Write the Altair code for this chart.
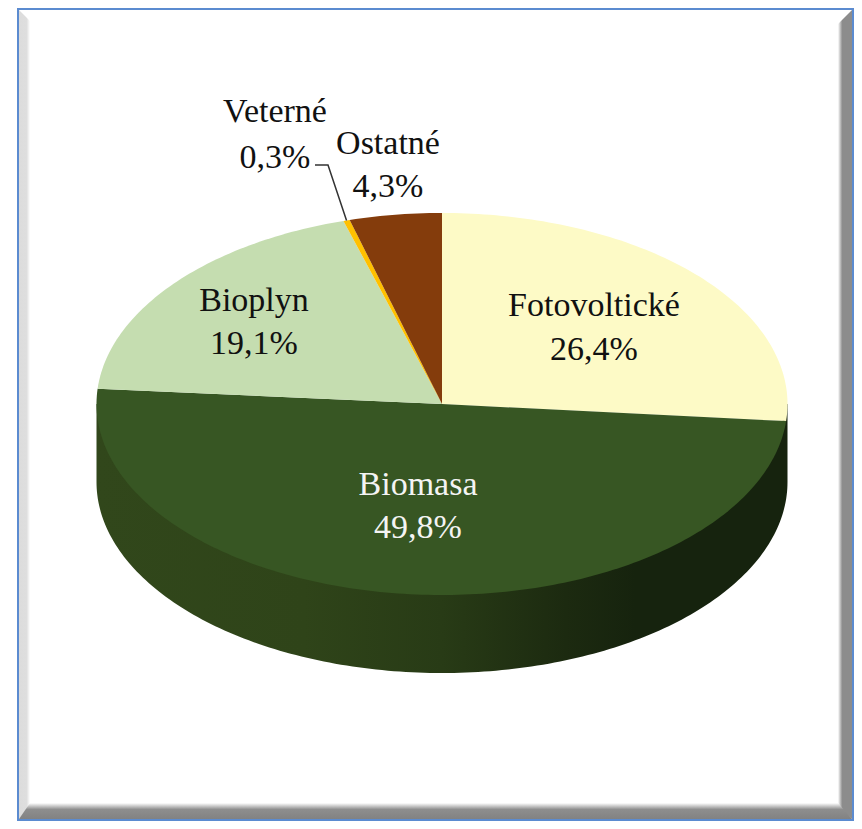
import math
import altair as alt
import pandas as pd

# ---- values ----
categories = ["Fotovoltické", "Biomasa", "Bioplyn", "Veterné", "Ostatné"]
shares = [26.4, 49.8, 19.1, 0.3, 4.3]
share_labels = ["26,4%", "49,8%", "19,1%", "0,3%", "4,3%"]
slice_colors = ["#FDFAC6", "#375623", "#C5DDB0", "#FFC000", "#843C0C"]
text_colors = ["#111111", "#F4F4F4", "#111111", "#111111", "#111111"]

# label anchors (picture pixels): centre x, name line y, value line y
label_x = [594, 418, 254, 275, 388]
label_y1 = [306, 485, 301, 112, 144]
label_y2 = [350, 528, 344, 158, 187]

W, H = 846, 813
CX, CY, RX, RY, DEPTH = 442, 404, 345.5, 191, 78


def px(x, y):
    """picture pixels to chart pixels (the page has an 8px margin)"""
    return [x - 8, y - 8]


def ell(turn, dy=0, k=1.0):
    a = 2 * math.pi * turn
    return px(CX + k * RX * math.sin(a), CY - k * RY * math.cos(a) + dy)


def feature(name, ring):
    ring = ring + [ring[0]]
    return {"type": "Feature", "properties": {"name": name},
            "geometry": {"type": "Polygon", "coordinates": [ring]}}


total = sum(shares)
slices = []
start = 0.0
turns = []
for name, s in zip(categories, shares):
    end = start + s / total
    n = max(2, int((end - start) * 360))
    arc = [ell(start + (end - start) * i / n) for i in range(n + 1)]
    slices.append(feature(name, [px(CX, CY)] + arc))
    turns.append((start, end))
    start = end

N = 180
# upper edge of the rim tucks slightly under the top face so no seam shows
upper = [ell(0.25 + 0.5 * i / N, 0, 0.99) for i in range(N + 1)]
lower_down = [ell(0.25 + 0.5 * i / N, DEPTH) for i in range(N, -1, -1)]
side = feature("side", [ell(0.25)] + upper + [ell(0.75)] + lower_down)

identity = dict(type="identity", scale=1, translate=[0, 0])


def gradient(stops, x2=1, y2=0):
    return {"gradient": "linear", "x1": 0, "y1": 0, "x2": x2, "y2": y2,
            "stops": [{"offset": o, "color": c} for o, c in stops]}


def shape(poly, fill):
    return (alt.Chart(alt.Data(values=[feature("f", poly)]))
            .mark_geoshape(fill=fill, stroke=None)
            .project(**identity))


x_s = alt.Scale(domain=[0, W], range=[0, W])
y_s = alt.Scale(domain=[0, H], range=[0, H])

frame_df = pd.DataFrame([{"x": 18 - 8, "x2": 853 - 8, "y": 9 - 8, "y2": 820 - 8}])
frame = alt.Chart(frame_df).mark_rect(fill="white", stroke="#5B8BD0", strokeWidth=2).encode(
    x=alt.X("x:Q", scale=x_s, axis=None), x2="x2:Q",
    y=alt.Y("y:Q", scale=y_s, axis=None), y2="y2:Q")

bevel_left = shape([px(19, 10), px(30, 21), px(30, 808), px(19, 819)],
                   gradient([(0, "#DCDCDC"), (0.7, "#DEDEDE"), (1, "#FFFFFF")]))
bevel_right = shape([px(852, 10), px(838, 24), px(838, 807), px(852, 819)],
                    gradient([(0, "#FFFFFF"), (0.3, "#8C8C8C"), (1, "#8C8C8C")]))
bevel_bottom = shape([px(19, 819), px(30, 803), px(838, 803), px(852, 819)],
                     gradient([(0, "#FFFFFF"), (0.4, "#8E8E8E"), (1, "#828282")], x2=0, y2=1))

side_layer = (alt.Chart(alt.Data(values=[side]))
              .mark_geoshape(stroke=None, fill=gradient([
                  (0, "#31471B"), (0.3, "#2F4419"), (0.5, "#283B16"),
                  (0.68, "#1C2A10"), (0.78, "#16230E"), (1, "#16230E")]))
              .project(**identity))

top_layer = (alt.Chart(alt.Data(values=slices))
             .mark_geoshape(stroke=None)
             .encode(color=alt.Color("properties.name:N",
                                     scale=alt.Scale(domain=categories, range=slice_colors),
                                     legend=None))
             .project(**identity))

# leader line of the Veterné label, ending on its slice
vet_mid = sum(turns[3]) / 2
leader_end = ell(vet_mid)
leader_df = pd.DataFrame({
    "x": [315 - 8, 328 - 8, leader_end[0]],
    "y": [165 - 8, 165 - 8, leader_end[1]],
    "o": [0, 1, 2],
})
leader = alt.Chart(leader_df).mark_line(color="#333333", strokeWidth=1.5).encode(
    x=alt.X("x:Q", scale=x_s, axis=None),
    y=alt.Y("y:Q", scale=y_s, axis=None),
    order="o:O")

rows = []
for name, lab, c, lx, y1, y2 in zip(categories, share_labels, text_colors, label_x, label_y1, label_y2):
    rows.append({"t": name, "x": lx - 8, "y": y1 - 8, "c": c})
    rows.append({"t": lab, "x": lx - 8, "y": y2 - 8, "c": c})
labels = alt.Chart(pd.DataFrame(rows)).mark_text(
    font="Liberation Serif", fontSize=34, baseline="middle", align="center"
).encode(
    x=alt.X("x:Q", scale=x_s, axis=None),
    y=alt.Y("y:Q", scale=y_s, axis=None),
    text="t:N",
    color=alt.Color("c:N", scale=None),
)

chart = alt.layer(
    frame, bevel_left, bevel_right, bevel_bottom, side_layer, top_layer, leader, labels
).properties(
    width=W, height=H, padding=0, background="white"
).configure_view(stroke=None)

chart.save("out.html", embed_options={"renderer": "svg", "actions": False})
